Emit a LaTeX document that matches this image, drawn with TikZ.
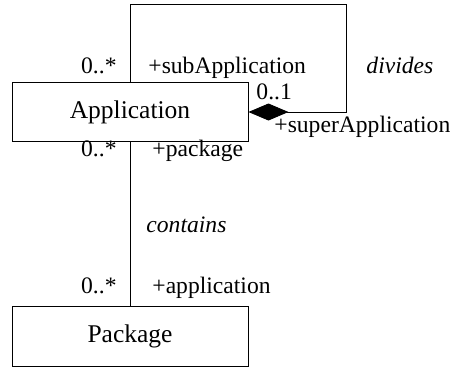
\documentclass[tikz,border=0pt]{standalone}
\usepackage{fontspec}
\setmainfont{Liberation Serif}
\usetikzlibrary{arrows.meta}

\begin{document}
\begin{tikzpicture}[x=1pt, y=-1pt, line width=0.9pt,
    classbox/.style={draw, rectangle, minimum width=236pt, minimum height=59.5pt, inner sep=0pt, font=\fontsize{25.5}{28}\selectfont},
    role/.style={inner sep=0pt, font=\fontsize{23.6}{26}\selectfont},
    assoc/.style={role, font=\fontsize{23.6}{26}\selectfont\itshape}]
  \useasboundingbox (0,0) rectangle (454,367);
  \node[classbox] (app) at (130,112) {Application};
  \node[classbox] (pkg) at (130,336.5) {Package};
  % composition loop
  \coordinate (loopTR) at (346,4);
  \draw[-{Diamond[length=40pt, width=17pt]}] (app.north) |- (loopTR) |- (app.east);
  \node[role, anchor=base east] (subMult) at (117,73) {0..*};
  \node[role, anchor=base west] (subRole) at (148,73) {+subApplication};
  \node[assoc, anchor=base west] (divides) at (366,73) {divides};
  \node[role, anchor=base west] (superMult) at (256,99) {0..1};
  \node[role, anchor=base west] (superRole) at (274,132) {+superApplication};
  % association
  \draw (app.south) -- (pkg.north);
  \node[role, anchor=base east] (pkgMult) at (117,156) {0..*};
  \node[role, anchor=base west] (pkgRole) at (152,156) {+package};
  \node[assoc, anchor=base west] (contains) at (146,232) {contains};
  \node[role, anchor=base east] (appMult) at (117,293) {0..*};
  \node[role, anchor=base west] (appRole) at (152,293) {+application};
\end{tikzpicture}
\end{document}
